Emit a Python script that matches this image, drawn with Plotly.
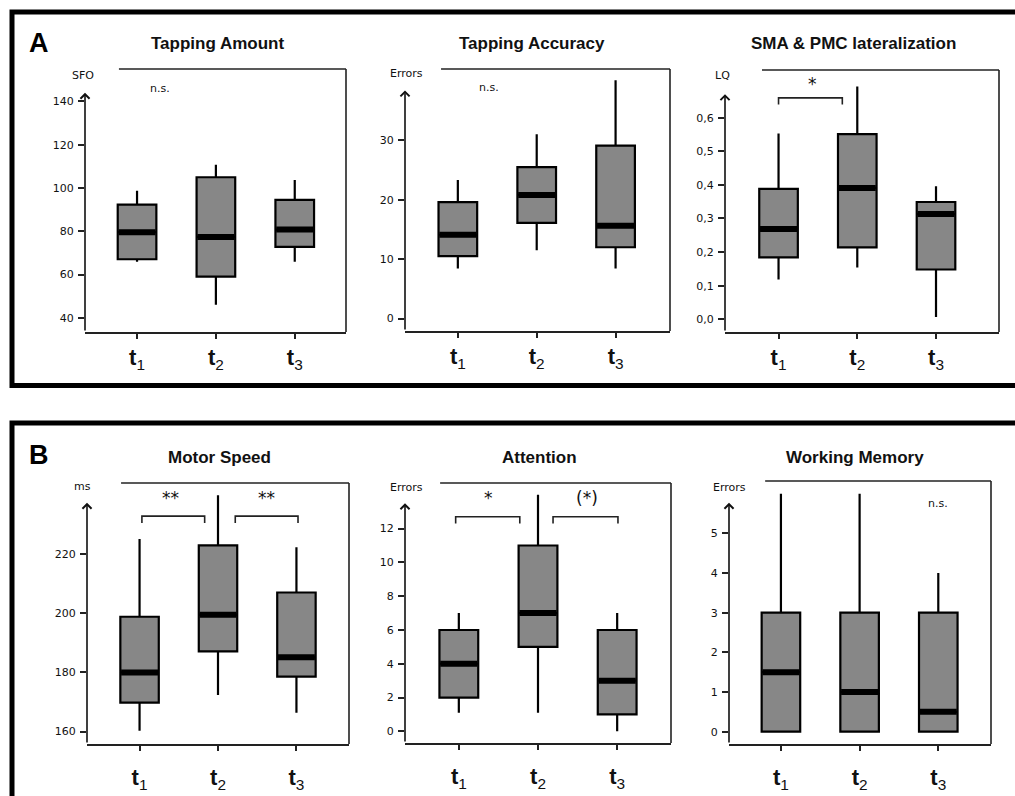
import plotly.graph_objects as go

W, H = 1015, 796

# ---------------- data ----------------
categories = ["<b>t</b><sub>1</sub>", "<b>t</b><sub>2</sub>", "<b>t</b><sub>3</sub>"]
panel_letters = ["A", "B"]
titles = ["Tapping Amount", "Tapping Accuracy", "SMA & PMC lateralization",
          "Motor Speed", "Attention", "Working Memory"]
units = ["SFO", "Errors", "LQ", "ms", "Errors", "Errors"]

tap_amount_low = [66.0, 46.1, 66.0]
tap_amount_q1 = [67.1, 59.1, 72.8]
tap_amount_med = [79.6, 77.4, 80.8]
tap_amount_q3 = [92.3, 105.0, 94.5]
tap_amount_high = [98.8, 110.8, 103.7]

tap_acc_low = [8.4, 11.5, 8.4]
tap_acc_q1 = [10.5, 16.1, 12.0]
tap_acc_med = [14.1, 20.8, 15.6]
tap_acc_q3 = [19.6, 25.5, 29.1]
tap_acc_high = [23.3, 31.0, 40.1]

lq_low = [0.118, 0.154, 0.007]
lq_q1 = [0.184, 0.214, 0.148]
lq_med = [0.269, 0.391, 0.313]
lq_q3 = [0.388, 0.551, 0.349]
lq_high = [0.553, 0.693, 0.396]

speed_low = [160.3, 172.4, 166.4]
speed_q1 = [169.8, 187.1, 178.6]
speed_med = [180.0, 199.5, 185.1]
speed_q3 = [198.8, 222.9, 207.0]
speed_high = [225.1, 239.9, 222.3]

att_low = [1.1, 1.1, 0.0]
att_q1 = [2.0, 5.0, 1.0]
att_med = [4.0, 7.0, 3.0]
att_q3 = [6.0, 11.0, 6.0]
att_high = [7.0, 14.0, 7.0]

wm_low = [0.0, 0.0, 0.0]
wm_q1 = [0.0, 0.0, 0.0]
wm_med = [1.5, 1.0, 0.5]
wm_q3 = [3.0, 3.0, 3.0]
wm_high = [6.0, 6.0, 4.0]

tap_amount_ticks = [40, 60, 80, 100, 120, 140]
tap_acc_ticks = [0, 10, 20, 30]
lq_ticks = [0.0, 0.1, 0.2, 0.3, 0.4, 0.5, 0.6]
speed_ticks = [160, 180, 200, 220]
att_ticks = [0, 2, 4, 6, 8, 10, 12]
wm_ticks = [0, 1, 2, 3, 4, 5]

stats = [
    (tap_amount_low, tap_amount_q1, tap_amount_med, tap_amount_q3, tap_amount_high),
    (tap_acc_low, tap_acc_q1, tap_acc_med, tap_acc_q3, tap_acc_high),
    (lq_low, lq_q1, lq_med, lq_q3, lq_high),
    (speed_low, speed_q1, speed_med, speed_q3, speed_high),
    (att_low, att_q1, att_med, att_q3, att_high),
    (wm_low, wm_q1, wm_med, wm_q3, wm_high),
]
yticks = [tap_amount_ticks, tap_acc_ticks, lq_ticks, speed_ticks, att_ticks, wm_ticks]

# significance labels
sig_notes = [(0, "n.s."), (1, "n.s."), (5, "n.s.")]
sig_brackets = [(2, "*", 0, 1), (3, "**", 0, 1), (3, "**", 1, 2),
                (4, "*", 0, 1), (4, "(*)", 1, 2)]

# ---------------- layout geometry (pixels) ----------------
domains_px = [((85, 346), (69, 332)), ((405, 670), (69, 331)), ((725, 999), (70, 332)),
              ((87, 349), (483, 744)), ((405, 671), (483, 743)), ((729, 991), (481, 744))]
yranges = [(33.5, 155), (-2.1, 42), (-0.038, 0.742), (155.8, 244), (-0.69, 14.7), (-0.31, 6.32)]
arrow_tips = [144, 38.4, 0.67, 237.3, 13.5, 5.77]
xranges = [(-0.66, 2.65), (-0.67, 2.69), (-0.68, 2.8), (-0.67, 2.67), (-0.68, 2.68), (-0.66, 2.67)]
top_line_start = [0.13, 0.136, 0.135, 0.13, 0.132, 0.138]
title_px = [(217, 43), (532, 43), (853, 43), (219, 457), (539, 457), (855, 457)]
unit_px = [(83, 76), (406, 73), (722, 76), (82, 486), (406, 487), (729, 487)]
note_pos = {0: (0.29, 146), 1: (0.40, 38.9), 5: (2.0, 5.75)}
bracket_geom = {  # (x0, x1, y_top, y_leg, text_x, text_y)
    (2, 0): (0.0, 0.81, 0.659, 0.639, 0.43, 0.70),
    (3, 0): (0.03, 0.83, 232.8, 230.5, 0.40, 239.0),
    (3, 1): (1.22, 2.02, 232.8, 230.5, 1.615, 239.0),
    (4, 0): (-0.04, 0.77, 12.7, 12.3, 0.37, 13.8),
    (4, 1): (1.19, 2.01, 12.7, 12.3, 1.62, 13.8),
}

def pxx(x):
    return x / W

def pxy(y):
    return 1 - y / H

BOX_FILL = "#878787"
SMALL_FONT = dict(family="DejaVu Sans", size=11, color="#111111")

fig = go.Figure()
layout = dict(width=W, height=H, margin=dict(l=0, r=0, t=0, b=0),
              paper_bgcolor="white", plot_bgcolor="white", showlegend=False,
              separators=",.", boxmode="overlay")
shapes = []
annotations = []

for i in range(6):
    n = "" if i == 0 else str(i + 1)
    xid, yid = "x" + n, "y" + n
    low, q1, med, q3, high = stats[i]
    fig.add_trace(go.Box(x=categories, q1=q1, median=med, q3=q3,
                         lowerfence=low, upperfence=high, width=0.49,
                         whiskerwidth=0, fillcolor=BOX_FILL,
                         line=dict(color="black", width=2.2), boxpoints=False,
                         hoverinfo="skip", xaxis=xid, yaxis=yid))
    fig.add_trace(go.Box(x=categories, q1=med, median=med, q3=med,
                         lowerfence=med, upperfence=med, width=0.47,
                         whiskerwidth=0, fillcolor="black",
                         line=dict(color="black", width=6), boxpoints=False,
                         hoverinfo="skip", xaxis=xid, yaxis=yid))
    (dx0, dx1), (dy0, dy1) = domains_px[i]
    layout["xaxis" + n] = dict(domain=[pxx(dx0), pxx(dx1)], range=list(xranges[i]),
                               type="category", categoryarray=categories,
                               showline=True, linecolor="#222222", linewidth=1.6,
                               ticks="outside", ticklen=5, tickwidth=1.5, tickcolor="#222222",
                               showgrid=False, zeroline=False, anchor=yid,
                               tickfont=dict(family="Liberation Sans, Arial", size=22, color="#111111"),
                               ticklabelstandoff=0 if i < 3 else 8, fixedrange=True)
    yfmt = ".1f" if i == 2 else "d"
    layout["yaxis" + n] = dict(domain=[pxy(dy1), pxy(dy0)], range=list(yranges[i]),
                               showline=False, ticks="outside", ticklen=6, tickwidth=1.5,
                               tickcolor="#222222", tickvals=yticks[i], tickformat=yfmt,
                               showgrid=False, zeroline=False, anchor=xid,
                               tickfont=SMALL_FONT, ticklabelstandoff=2, fixedrange=True)
    shapes.append(dict(type="line", xref=xid + " domain", yref=yid + " domain",
                       x0=1, x1=1, y0=0, y1=1, line=dict(color="#222222", width=1.6)))
    shapes.append(dict(type="line", xref=xid + " domain", yref=yid + " domain",
                       x0=top_line_start[i], x1=1, y0=1, y1=1,
                       line=dict(color="#222222", width=1.6)))
    annotations.append(dict(x=xranges[i][0], y=arrow_tips[i], ax=xranges[i][0], ay=yranges[i][0],
                            xref=xid, yref=yid, axref=xid, ayref=yid, text="",
                            showarrow=True, arrowhead=4, arrowsize=1.1, arrowwidth=1.6,
                            arrowcolor="#111111", standoff=0, startstandoff=0))
    tx, ty = title_px[i]
    annotations.append(dict(x=pxx(tx), y=pxy(ty), xref="paper", yref="paper",
                            text="<b>" + titles[i].replace("&", "&amp;") + "</b>", showarrow=False,
                            font=dict(family="Liberation Sans, Arial", size=17, color="#111111"),
                            xanchor="center", yanchor="middle"))
    ux, uy = unit_px[i]
    annotations.append(dict(x=pxx(ux), y=pxy(uy), xref="paper", yref="paper",
                            text=units[i], showarrow=False, font=SMALL_FONT,
                            xanchor="center", yanchor="middle"))

for idx, txt in sig_notes:
    n = "" if idx == 0 else str(idx + 1)
    nx, ny = note_pos[idx]
    annotations.append(dict(x=nx, y=ny, xref="x" + n, yref="y" + n, text=txt,
                            showarrow=False, font=SMALL_FONT, xanchor="center", yanchor="middle"))

count = {}
for idx, txt, c0, c1 in sig_brackets:
    n = "" if idx == 0 else str(idx + 1)
    k = count.get(idx, 0)
    count[idx] = k + 1
    x0, x1, yt, yl, tx, ty = bracket_geom[(idx, k)]
    shapes.append(dict(type="path", xref="x" + n, yref="y" + n,
                       path=f"M {x0},{yl} L {x0},{yt} L {x1},{yt} L {x1},{yl}",
                       line=dict(color="#222222", width=1.6)))
    annotations.append(dict(x=tx, y=ty, xref="x" + n, yref="y" + n, text=txt,
                            showarrow=False, font=dict(family="DejaVu Sans", size=17, color="#111111"),
                            xanchor="center", yanchor="middle"))

# outer panel frames
shapes.append(dict(type="rect", xref="paper", yref="paper", x0=pxx(12), x1=pxx(1030),
                   y0=pxy(385.5), y1=pxy(12), line=dict(color="black", width=5)))
shapes.append(dict(type="rect", xref="paper", yref="paper", x0=pxx(12), x1=pxx(1030),
                   y0=pxy(812), y1=pxy(423), line=dict(color="black", width=5)))

for letter, (lx, ly) in zip(panel_letters, [(39, 43), (39, 455)]):
    annotations.append(dict(x=pxx(lx), y=pxy(ly), xref="paper", yref="paper", text="<b>" + letter + "</b>",
                            showarrow=False, font=dict(family="Liberation Sans, Arial", size=27, color="black"),
                            xanchor="center", yanchor="middle"))

layout["shapes"] = shapes
layout["annotations"] = annotations
fig.update_layout(**layout)
fig.write_html("out.html", config={"displayModeBar": False},
               post_script="document.body.style.margin='0';document.body.style.overflow='hidden';")
